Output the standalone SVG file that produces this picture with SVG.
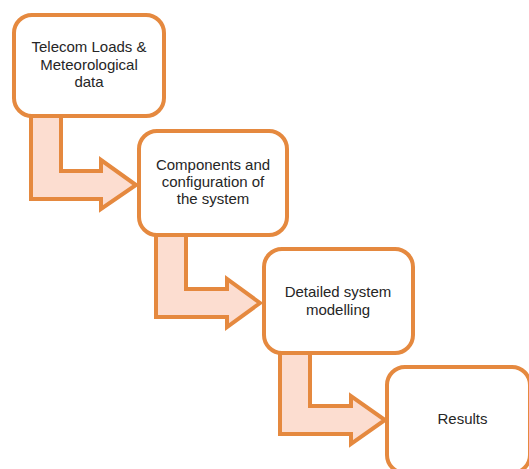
<svg xmlns="http://www.w3.org/2000/svg" width="529" height="469" viewBox="0 0 529 469">
<style>
.box{fill:#ffffff;stroke:#E5893F;stroke-width:4}
.arr{fill:#FCDDD0;stroke:#E5893F;stroke-width:4;stroke-linejoin:miter}
.t{font-family:"Liberation Sans",Arial,sans-serif;font-size:15px;fill:#262626;text-anchor:middle}
</style>
<rect width="529" height="469" fill="#ffffff"/>
<g id="connectors">
<polygon class="arr" points="31,116 61,116 61,171 101,171 101,160 136,185 101,209 101,199 31,199"/>
<polygon class="arr" points="156,235 186,235 186,289 227,289 227,279 260,303 227,327 227,317 156,317"/>
<polygon class="arr" points="280,353 310,353 310,406 351,406 351,396 385,420 351,444 351,434 280,434"/>
</g>
<g id="node1">
<rect class="box" x="14" y="15" width="150" height="101" rx="18"/>
<text class="t" x="89" y="52">Telecom Loads &amp;</text>
<text class="t" x="89" y="69.5">Meteorological</text>
<text class="t" x="89" y="87">data</text>
</g>
<g id="node2">
<rect class="box" x="139" y="131" width="148" height="104" rx="18"/>
<text class="t" x="213" y="170">Components and</text>
<text class="t" x="213" y="187">configuration of</text>
<text class="t" x="213" y="204">the system</text>
</g>
<g id="node3">
<rect class="box" x="264" y="249" width="149" height="104" rx="18"/>
<text class="t" x="338" y="297">Detailed system</text>
<text class="t" x="338" y="315">modelling</text>
</g>
<g id="node4">
<rect class="box" x="387" y="367" width="143" height="106" rx="18"/>
<text class="t" x="462.5" y="424">Results</text>
</g>
</svg>
